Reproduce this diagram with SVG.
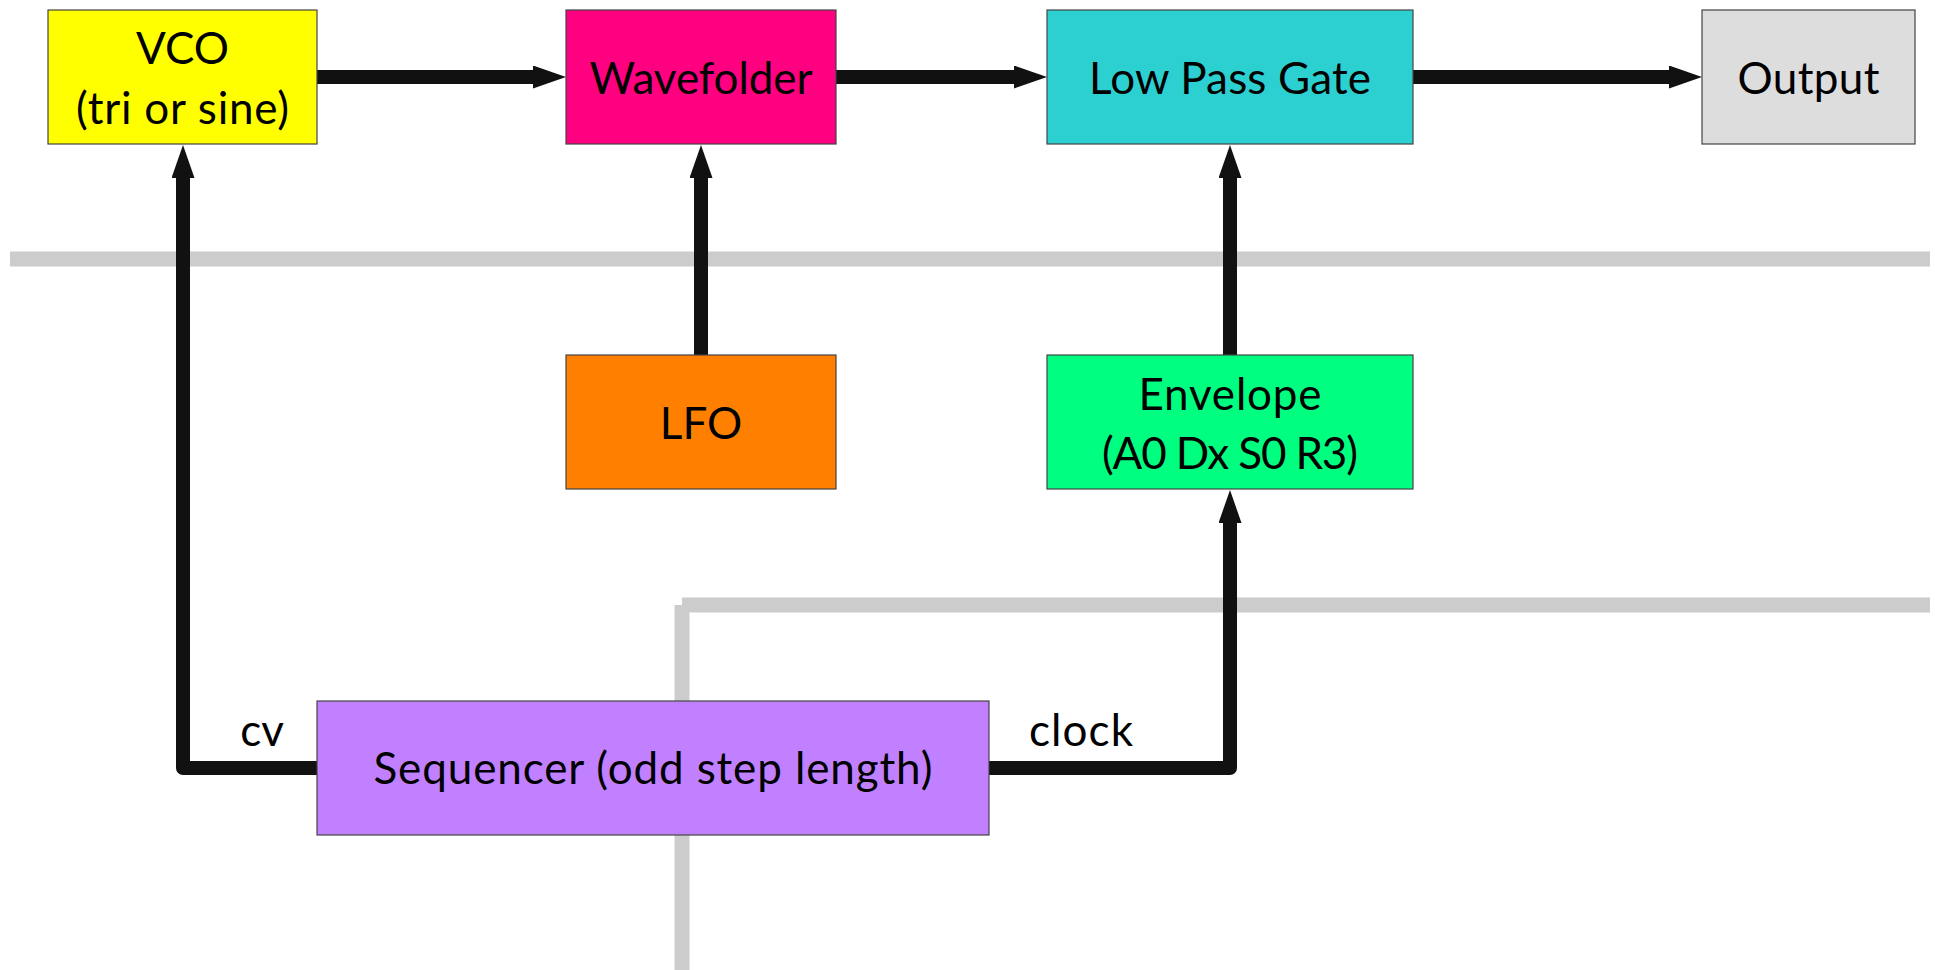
<svg xmlns="http://www.w3.org/2000/svg" width="1935" height="970" viewBox="0 0 1935 970">
<style>
.box{stroke:#444;stroke-width:1.2}
.lbl{font-family:Lato,"Liberation Sans",sans-serif;font-size:44px;fill:#000;text-anchor:middle}
.wire{fill:none;stroke:#111;stroke-width:14;stroke-linejoin:round}
.grid{fill:none;stroke:#cccccc;stroke-width:15}
</style>
<defs>
<marker id="ah" markerUnits="userSpaceOnUse" markerWidth="36" markerHeight="24" refX="2" refY="11.5" orient="auto">
<path d="M0,0 L33,11.5 L0,23 z" fill="#111"/>
</marker>
</defs>
<rect width="1935" height="970" fill="#fff"/>
<g id="dividers">
<line class="grid" x1="10" y1="259" x2="1930" y2="259"/>
<line class="grid" x1="682" y1="605" x2="1930" y2="605"/>
<line class="grid" x1="682" y1="605" x2="682" y2="970"/>
</g>
<g id="connectors">
<line class="wire" x1="317" y1="77" x2="535" y2="77" marker-end="url(#ah)"/>
<line class="wire" x1="836" y1="77" x2="1016" y2="77" marker-end="url(#ah)"/>
<line class="wire" x1="1413" y1="77" x2="1671" y2="77" marker-end="url(#ah)"/>
<line class="wire" x1="701" y1="355" x2="701" y2="176" marker-end="url(#ah)"/>
<line class="wire" x1="1230" y1="355" x2="1230" y2="176" marker-end="url(#ah)"/>
<path class="wire" d="M317,768 H183 V176" marker-end="url(#ah)"/>
<path class="wire" d="M989,768 H1230 V521" marker-end="url(#ah)"/>
<text class="lbl" x="262" y="746">cv</text>
<text class="lbl" x="1081" y="746" textLength="104">clock</text>
</g>
<g id="vco">
<rect class="box" x="48" y="10" width="269" height="134" fill="#ffff00"/>
<text class="lbl" x="182.5" y="64">VCO</text>
<text class="lbl" x="182.5" y="124" textLength="213">(tri or sine)</text>
</g>
<g id="wavefolder">
<rect class="box" x="566" y="10" width="270" height="134" fill="#ff0080"/>
<text class="lbl" x="701" y="94" textLength="223">Wavefolder</text>
</g>
<g id="lpg">
<rect class="box" x="1047" y="10" width="366" height="134" fill="#2dd0d1"/>
<text class="lbl" x="1230" y="94" textLength="282">Low Pass Gate</text>
</g>
<g id="output">
<rect class="box" x="1702" y="10" width="213" height="134" fill="#dddddd"/>
<text class="lbl" x="1808.5" y="94" textLength="142">Output</text>
</g>
<g id="lfo">
<rect class="box" x="566" y="355" width="270" height="134" fill="#ff8000"/>
<text class="lbl" x="701" y="439">LFO</text>
</g>
<g id="envelope">
<rect class="box" x="1047" y="355" width="366" height="134" fill="#00ff80"/>
<text class="lbl" x="1230" y="410" textLength="183">Envelope</text>
<text class="lbl" x="1230" y="469" textLength="256">(A0 Dx S0 R3)</text>
</g>
<g id="sequencer">
<rect class="box" x="317" y="701" width="672" height="134" fill="#c080ff"/>
<text class="lbl" x="653" y="784" textLength="559">Sequencer (odd step length)</text>
</g>
</svg>
